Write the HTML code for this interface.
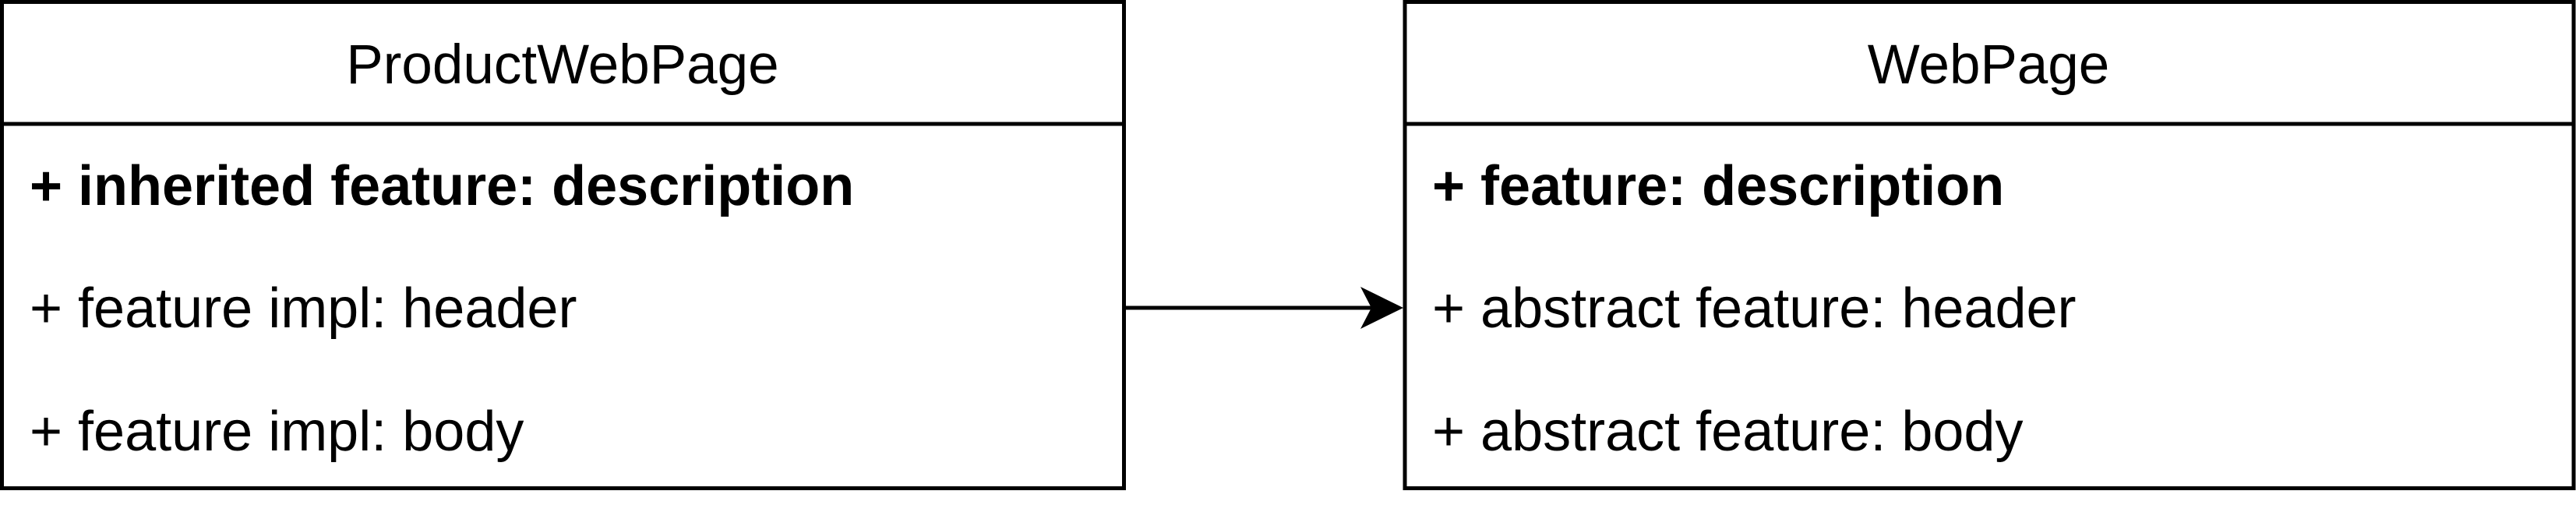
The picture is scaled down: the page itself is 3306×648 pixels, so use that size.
<!DOCTYPE html>
<html><head><meta charset="utf-8"><style>
html,body{margin:0;padding:0;background:#fff;}
svg{display:block;}
text{font-family:"Liberation Sans",Arial,sans-serif;fill:#000;}
</style></head><body>
<svg width="3306" height="648" viewBox="0 0 3306 648" xmlns="http://www.w3.org/2000/svg">
  <g>
    <rect x="2.5" y="2.5" width="1440" height="624" fill="#fff" stroke="#000" stroke-width="5"/>
    <line x1="2.5" y1="159" x2="1442.5" y2="159" stroke="#000" stroke-width="5"/>
    <text x="722" y="107" font-size="71" text-anchor="middle">ProductWebPage</text>
    <text x="38" y="263" font-size="72" font-weight="bold">+ inherited feature: description</text>
    <text x="38" y="420" font-size="72">+ feature impl: header</text>
    <text x="38" y="578" font-size="72">+ feature impl: body</text>
  </g>
  <g>
    <line x1="1444" y1="395" x2="1780" y2="395" stroke="#000" stroke-width="5"/>
    <path d="M1801 395 L1746 368 L1760 395 L1746 422 Z" fill="#000"/>
  </g>
  <g>
    <rect x="1803" y="2.5" width="1500" height="624" fill="#fff" stroke="#000" stroke-width="5"/>
    <line x1="1803" y1="159" x2="3303" y2="159" stroke="#000" stroke-width="5"/>
    <text x="2552" y="107" font-size="71" text-anchor="middle">WebPage</text>
    <text x="1838" y="263" font-size="72" font-weight="bold">+ feature: description</text>
    <text x="1838" y="420" font-size="72">+ abstract feature: header</text>
    <text x="1838" y="578" font-size="72">+ abstract feature: body</text>
  </g>
</svg>
</body></html>
